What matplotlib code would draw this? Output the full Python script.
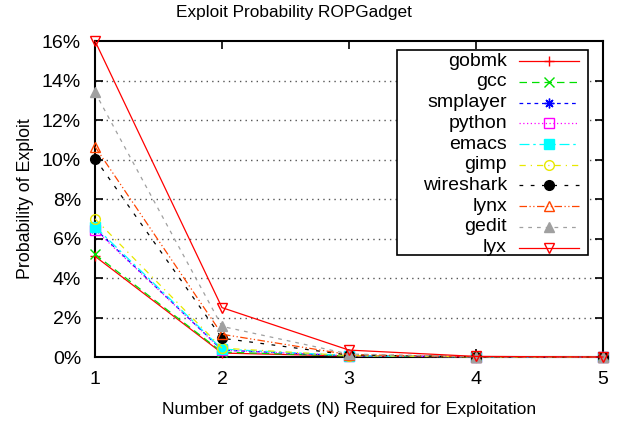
import matplotlib
matplotlib.use("Agg")
import matplotlib.pyplot as plt
from matplotlib.lines import Line2D
from matplotlib.patches import Rectangle

plt.rcParams['font.family'] = ['Liberation Sans', 'DejaVu Sans']

# datos (porcentaje)
n_gadgets = [1, 2, 3, 4, 5]
programas = ["gobmk", "gcc", "smplayer", "python", "emacs",
             "gimp", "wireshark", "lynx", "gedit", "lyx"]
gobmk = [5.1, 0.2, 0.05, 0.01, 0.0]
gcc = [5.2, 0.25, 0.05, 0.01, 0.0]
smplayer = [6.5, 0.35, 0.06, 0.01, 0.0]
python = [6.45, 0.35, 0.06, 0.01, 0.0]
emacs = [6.6, 0.4, 0.07, 0.01, 0.0]
gimp = [7.0, 0.45, 0.07, 0.01, 0.0]
wireshark = [10.05, 0.95, 0.1, 0.01, 0.0]
lynx = [10.65, 1.15, 0.12, 0.01, 0.0]
gedit = [13.4, 1.55, 0.15, 0.02, 0.0]
lyx = [16.0, 2.5, 0.35, 0.03, 0.0]
series = [gobmk, gcc, smplayer, python, emacs, gimp, wireshark, lynx, gedit, lyx]

y_ticks = [0, 2, 4, 6, 8, 10, 12, 14, 16]

# estilo de cada linea: color, dashes, marcador, relleno
estilos = [
    ("#ff0000", None, "+", True),
    ("#00e000", (6, 4), "x", True),
    ("#0000ff", (3, 3), (8, 2, 0), True),
    ("#ff00ff", (1, 2), "s", False),
    ("#00ffff", (8, 3, 2, 3), "s", True),
    ("#e8e800", (5, 4, 1, 4), "o", False),
    ("#000000", (3, 6), "o", True),
    ("#ff4500", (6, 2, 1, 2, 1, 2), "^", False),
    ("#a0a0a0", (3, 4), "^", True),
    ("#ff0000", None, "v", False),
]

fig = plt.figure(figsize=(6.21, 4.23), dpi=100)
ax = fig.add_axes([0.153, 0.156, 0.818, 0.747])


def estilo_kw(color, dashes, marker, lleno):
    kw = dict(color=color, lw=0.9, marker=marker, markersize=7,
              markeredgewidth=1.0, markeredgecolor=color,
              markerfacecolor=color if lleno else "none")
    if dashes is None:
        kw["linestyle"] = "-"
    else:
        kw["dashes"] = dashes
    return kw


for valores, (color, dashes, marker, lleno) in zip(series, estilos):
    ax.plot(n_gadgets, valores, clip_on=False, zorder=3,
            **estilo_kw(color, dashes, marker, lleno))

ax.set_xlim(1, 5)
ax.set_ylim(0, 16)
ax.set_xticks(n_gadgets)
ax.set_yticks(y_ticks)
ax.set_yticklabels([f"{v}%" for v in y_ticks])
ax.tick_params(direction="in", top=True, right=True, length=6, width=1.2,
               labelsize=14)
ax.tick_params(axis="y", pad=10)
ax.tick_params(axis="x", pad=10)
for sp in ax.spines.values():
    sp.set_linewidth(1.5)
for v in y_ticks[1:-1]:
    ax.axhline(v, color="#555555", lw=1, linestyle=(0, (1, 3)), zorder=1)

fig.text(294 / 621, 1 - 12 / 423, "Exploit Probability ROPGadget",
         fontsize=12.4, ha="center", va="center")
ax.set_xlabel("Number of gadgets (N) Required for Exploitation", fontsize=12.6, labelpad=10)
ax.set_ylabel("Probability of Exploit", fontsize=12.8, labelpad=6)

# leyenda dibujada a mano (texto alineado a la derecha, como gnuplot)
caja = Rectangle((0.594, 0.323), 0.376, 0.649, transform=ax.transAxes,
                 facecolor="white", edgecolor="black", lw=1.2, zorder=5)
ax.add_patch(caja)
y0 = 0.936
paso = 0.0655
for i, (nombre, (color, dashes, marker, lleno)) in enumerate(zip(programas, estilos)):
    yy = y0 - i * paso
    ax.text(0.811, yy, nombre, transform=ax.transAxes, ha="right", va="center",
            fontsize=14, zorder=6)
    kw = estilo_kw(color, dashes, marker, lleno)
    kw["marker"] = None
    ax.add_line(Line2D([0.835, 0.953], [yy, yy], transform=ax.transAxes,
                       zorder=6, **kw))
    kw = estilo_kw(color, dashes, marker, lleno)
    kw["linestyle"] = "none"
    kw.pop("dashes", None)
    ax.add_line(Line2D([0.894], [yy], transform=ax.transAxes, zorder=7, **kw))

fig.savefig("out.png", dpi=100)
